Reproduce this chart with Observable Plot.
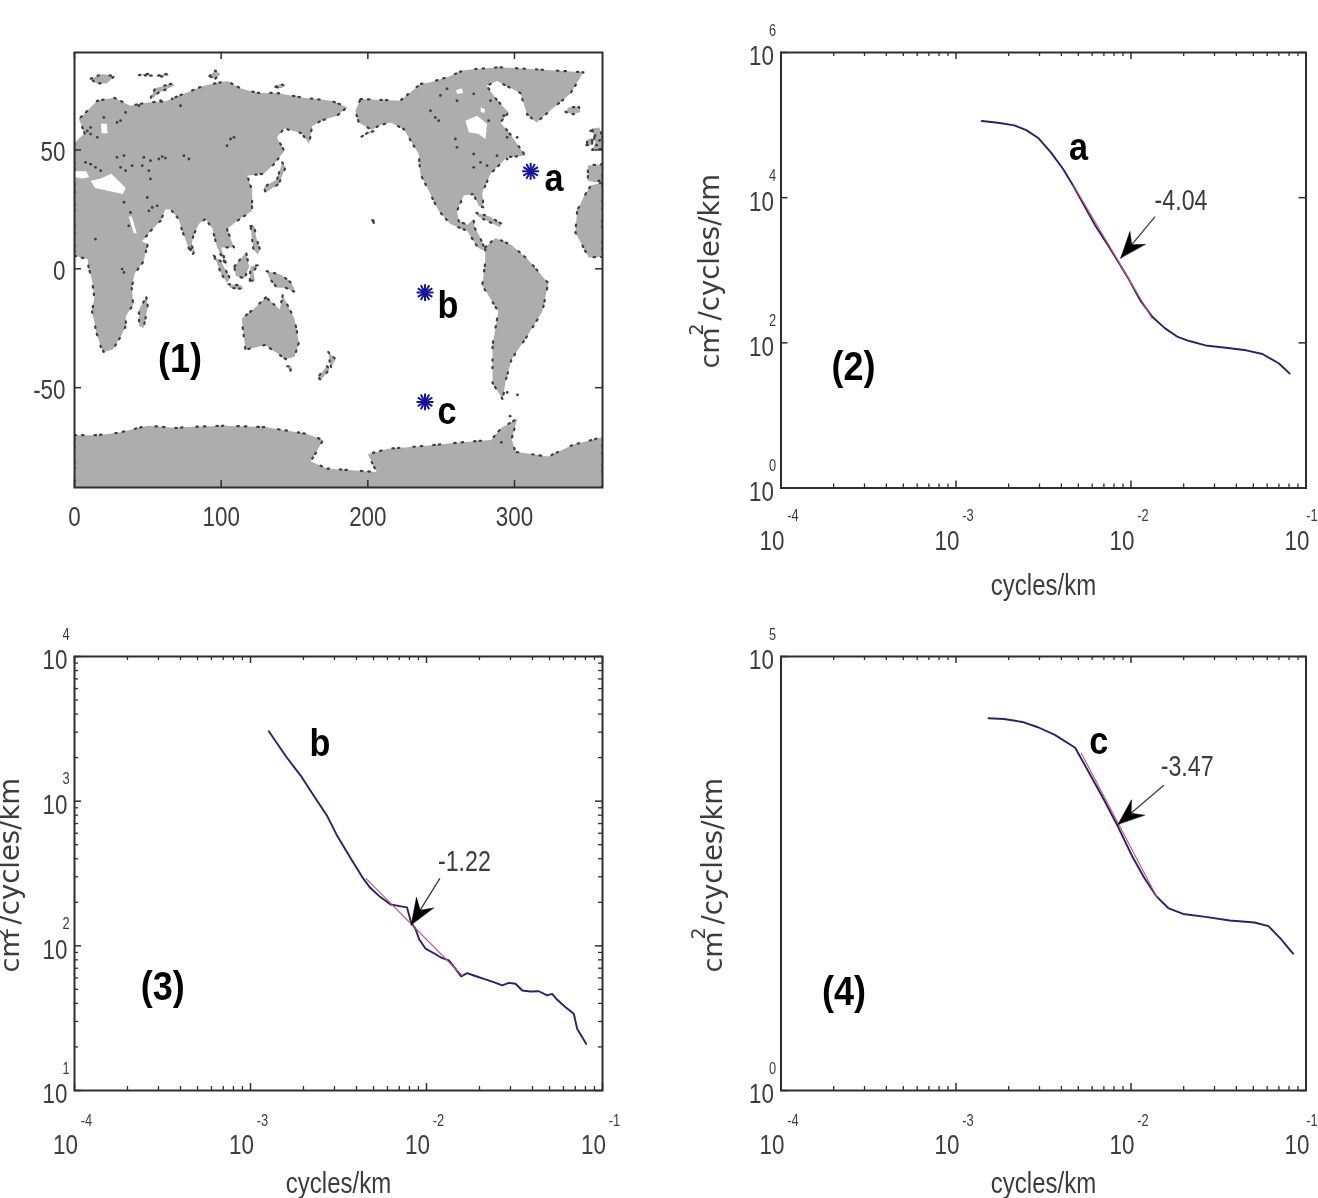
<!DOCTYPE html>
<html><head><meta charset="utf-8">
<script src="https://cdn.jsdelivr.net/npm/d3@7"></script>
<script src="https://cdn.jsdelivr.net/npm/@observablehq/plot@0.6"></script>
<style>
html,body{margin:0;padding:0;background:#fff;}
#page{position:relative;width:1318px;height:1198px;overflow:hidden;background:#fff;}
#page svg{position:absolute;overflow:visible;filter:blur(0.45px);}
</style></head><body><div id="page"></div>
<script>
// ---------- map data (longitude 0-360, latitude) ----------
const eurasiaAfrica=[[0,5.5],[9,4],[9.5,1],[12,-5],[13.5,-12],[12,-18],[15,-27],[18,-33],[20,-35],[26,-34],[32,-28],[35,-24],[35,-20],[40,-15],[39,-8],[41,-2],[47,3],[50,10.5],[46,11.5],[52,16],[58.7,20.2],[62,25],[65.5,25],[71,21],[73.4,16],[79,6.9],[81,14],[84.8,18.8],[89.3,21],[94,17],[97.3,9],[104,0.6],[100,9],[103,9],[108.7,9],[104,16.7],[111,20.2],[121,24.4],[121.2,32.8],[117.8,39.2],[129,40],[136,44],[143,49.6],[138,55.3],[143,59],[155,57],[160,52.5],[162,60],[168,62.3],[179,64.4],[186,68],[175,70.7],[156,72],[138,74],[124.5,74],[113,76],[104,79],[88,77],[72,73],[62,70.5],[50,70],[38,68.6],[27,72],[15.5,70.7],[6.4,65],[3,63],[7,57],[0,53]];
const westAfrica=[[360,5],[350.6,4.8],[341.5,15.3],[342.7,24.4],[347,30],[352,35],[360,36.4]];
const iberia=[[360,44],[350,43.5],[350,37],[355,36.4],[360,37.5]];
const britain=[[353,50],[360,50.5],[360,55],[358,59.5],[353,59],[355,53]];
const ireland=[[349,52],[353,52],[353,55],[350,54.5]];
const iceland=[[334.7,66],[340,65],[345,66],[344,68],[337,68]];
const northAmerica=[[195,71.4],[222,70.7],[236,77.8],[242.7,78.5],[254,80.6],[265,83.4],[272,84],[290,84.8],[347,82.7],[338,73.6],[327,68],[315,61.6],[308.6,65],[304,74],[288,79],[281,77],[288,71],[296,65.8],[290.4,61.6],[297,56.7],[307.4,47.6],[295,47],[283.6,40],[278,32],[279,25.8],[275.6,26.5],[272,31.4],[265.4,30.8],[260.8,24.4],[262,20],[268,18.5],[272,21],[273,17],[276,14],[279,9.5],[279,7.6],[275,9],[267.7,16],[256.3,18.8],[248.3,24.4],[235.8,39.9],[234.7,48.3],[224.5,58.8],[215.4,61.6],[207.4,60.2],[195,55.3],[204,58],[193.8,61.6],[191.5,66.5]];
const southAmerica=[[280,9],[287,13],[298,10],[309,4],[323,-6],[319,-18],[309,-28],[298,-38],[294,-47],[292,-55],[285,-48],[285,-32],[289,-18],[278,-7],[280,2.5]];
const australia=[[130.5,-12],[122,-17],[114,-21],[116.5,-34],[124,-33],[130,-32],[137,-35],[144,-38],[150,-37],[153,-31],[150,-21],[145,-15],[142,-11],[140,-17],[136,-15]];
const tasmania=[[145,-41],[148,-41],[147,-43.5]];
const newZealandN=[[173,-35],[178,-38],[175,-41.5],[174,-39]];
const newZealandS=[[172,-41],[174,-42],[168,-47],[166,-45.5]];
const madagascar=[[49,-12],[50,-16],[47,-25],[44,-24],[44,-17]];
const sumatra=[[95,5.5],[100,3],[106,-4],[104,-6],[100,-2]];
const borneo=[[109,1],[117,7],[119,1],[116,-4],[110,-3]];
const java=[[105,-6.5],[114,-7],[115,-8.5],[106,-8]];
const sulawesi=[[119.5,-5],[120,1],[125,1.5],[122,-1],[123,-5]];
const newGuinea=[[131,-1],[141,-2.5],[148,-6],[151,-10],[144,-8],[138,-8],[133,-4]];
const philippines=[[120,18],[122.5,18],[124,13],[126.5,8],[125,6],[122,8],[121,13]];
const japan=[[141.6,44.8],[143.9,42.7],[139.3,35.7],[130.3,32.1],[129.1,34.3],[138.2,37.8]];
const sriLanka=[[80,9.5],[82,7.5],[80.5,6]];
const cuba=[[274,23.5],[283,22],[291,19],[290,17.5],[282,20],[275,22]];
const svalbard=[[11,80],[19,82],[27,81],[22,78],[15,78]];
const novayaZemlya=[[52,72],[55,76],[67,78],[68,77],[57,74],[54,72]];
const severnaya=[[92,81],[96,83.4],[99.6,82],[96,80]];
const newSiberian=[[137,76.5],[140,77.8],[144,77],[141,76]];
const franzJosef=[[44,81.5],[50,82],[55,81.2]];
const franzJosefE=[[57,81.3],[62,82],[65,81.5],[60,80.8]];
const hawaii=[[203,20.5],[205,20],[204.5,18.8]];
const antarctica=[[0,-70],[15,-70],[30,-69],[50,-66],[70,-67],[75,-66.6],[102,-66],[130,-66.6],[158,-69.4],[169.5,-72],[164,-78],[161,-81],[172,-84],[206,-85.5],[200,-78],[214,-75.7],[242,-74.3],[264,-73],[284,-72],[291,-67],[302,-63],[298,-71.5],[300.6,-77],[323,-79],[340,-74],[359,-71],[360,-70.8],[360,-93],[0,-93]];
const landNames=[eurasiaAfrica,westAfrica,iberia,britain,ireland,iceland,northAmerica,southAmerica,australia,tasmania,newZealandN,newZealandS,madagascar,sumatra,borneo,java,sulawesi,newGuinea,philippines,japan,sriLanka,cuba,svalbard,novayaZemlya,severnaya,newSiberian,franzJosef,franzJosefE,hawaii,antarctica];
// open water cut into the land
const hudsonBay=[[266.5,62.3],[274.5,64.4],[281.3,60.9],[280.2,54.6],[275.6,56.7],[268.8,57.4]];
const arcticGap=[[260,75],[264,76],[265,74],[261,73.5]];
const arcticGap2=[[277,68],[280,67],[279.5,65.5],[277,66]];
const baltic=[[18,61],[22,61],[22.5,57],[18.5,57]];
const medWest=[[0,41],[8,41],[10,38.5],[5,38],[0,38.5]];
const medEast=[[11,37],[18,38],[25,40],[30,37],[35,34],[33,31.5],[25,32.5],[14,34]];
const redSea=[[37,22],[39,22],[42.5,15],[40.5,15]];
const waterNames=[hudsonBay,arcticGap,arcticGap2,baltic,medWest,medEast,redSea];
// scattered coastline pixels inside the land masses
const lakeDots=[[11,59.5],[11,56.7],[8.7,58],[15.5,55.3],[20,63.7],[31.4,62.3],[34.8,65.8],[29,61.6],[11,44],[14.3,42.7],[7.5,44.8],[17.8,41.3],[29,46.9],[33.7,47.6],[31.4,42.7],[39.3,43.4],[34.8,41.3],[47.3,46.9],[46.2,43.4],[51.8,45.5],[50.7,41.3],[51.8,37.8],[59.8,47.2],[57.5,46.2],[62,46.6],[74.6,47.6],[78,46.2],[106.4,54.6],[108.7,55.3],[104,51.8],[33.7,28],[38.2,23.7],[37,18.1],[49.6,30],[53,25.8],[56.4,26.5],[50.7,24.4],[14.3,12.5],[32.5,-0.1],[33.7,-1.5],[43.9,68.6],[58.7,70.7],[66.6,71.5],[72.3,68.6],[246,63.7],[248.3,62.3],[242.7,66.5],[259.7,54.6],[260.8,51.1],[272.2,48.3],[276.8,44.8],[281.3,43.4],[272.2,42.7],[288.1,47.6],[295,46.2],[254,75.7],[260.8,70.7],[249.5,72.9],[272.2,73.6],[283.6,70.7],[282.4,62.3],[292.7,64.4],[295,55.3],[301.8,55.3],[352,58],[355,56],[358,54],[356,52],[353,54],[295,-52],[302,-53],[297,-62],[291,-73]];
const lon360=[0,100,200,300];
const latTicks=[50,0,-50];
// ---------- spectra, stored as log10 values ----------
const logKa=[-2.853,-2.760,-2.667,-2.598,-2.528,-2.458,-2.388,-2.330,-2.272,-2.202,-2.133,-2.074,-2.016,-1.947,-1.877,-1.807,-1.737,-1.667,-1.574,-1.458,-1.342,-1.249,-1.156,-1.093];
const logSa=[5.057,5.032,4.996,4.930,4.818,4.624,4.395,4.165,3.911,3.605,3.350,3.121,2.891,2.585,2.356,2.203,2.086,2.025,1.964,1.933,1.897,1.846,1.719,1.576];
const logKb=[-2.896,-2.796,-2.715,-2.634,-2.564,-2.506,-2.424,-2.366,-2.320,-2.262,-2.204,-2.145,-2.111,-2.087,-2.064,-2.041,-2.006,-1.948,-1.920,-1.873,-1.835,-1.803,-1.769,-1.731,-1.674,-1.618,-1.570,-1.532,-1.494,-1.456,-1.409,-1.362,-1.314,-1.286,-1.257,-1.210,-1.163,-1.144,-1.093];
const logSb=[3.483,3.305,3.177,3.025,2.897,2.757,2.592,2.477,2.401,2.337,2.286,2.273,2.266,2.159,2.121,2.044,1.981,1.942,1.921,1.899,1.841,1.788,1.811,1.795,1.772,1.749,1.726,1.744,1.738,1.691,1.684,1.686,1.657,1.668,1.627,1.576,1.530,1.427,1.323];
const logKc=[-2.814,-2.726,-2.621,-2.528,-2.435,-2.319,-2.249,-2.156,-2.074,-1.993,-1.923,-1.853,-1.784,-1.702,-1.574,-1.435,-1.295,-1.214,-1.144,-1.074];
const logSc=[4.288,4.280,4.246,4.182,4.097,3.949,3.695,3.356,3.038,2.699,2.445,2.233,2.097,2.034,2.000,1.958,1.936,1.894,1.746,1.576];
const fitKa=[-2.33,-1.88], fitSa=[4.175,2.34];
const fitKb=[-2.343,-1.797], fitSb=[2.465,1.795];
const fitKc=[-2.284,-1.853], fitSc=[3.886,2.233];
// ---------- annotations ----------
const stationNames=["a","b","c"], stationLon=[311,239,239], stationLat=[41,-10,-56];
const stationLabelLon=[327,254.6,254], stationLabelLat=[38,-15.6,-60];
const xDecades=[1e-4,1e-3,1e-2,1e-1];
const minorFactors=[2,3,4,5,6,7,8,9];

const INK="#3c3c3c", FRAME="#2e2e2e", LINE="#24246e", FIT="#c8506e", LAND="#adadad";
const SANS="'Liberation Sans',Arial,sans-serif";
const WIDE="'DejaVu Sans',sans-serif";
const page=document.getElementById("page");
function place(svg,left,top){
  svg.style.left=left+"px";svg.style.top=top+"px";page.appendChild(svg);
  // the reference's horizontal text is condensed, its bold labels a little less so
  svg.querySelectorAll("text").forEach(t=>{
    if((t.getAttribute("transform")||"").includes("rotate")) return;
    const n=t.getComputedTextLength();
    const bold=t.closest("[font-weight]");
    if(n>0){t.setAttribute("textLength",n*(bold?0.9:0.8));t.setAttribute("lengthAdjust","spacingAndGlyphs");}
  });
}
const boldText=(rows,size)=>Plot.text(rows,{x:"x",y:"y",text:"t",fontFamily:SANS,fontWeight:"bold",fontSize:size,fill:"#000",lineAnchor:"middle"});

// ---------- panel 1: map ----------
{
  const W=640,H=600,L=74,R=38,T=52,B=113,pw=W-L-R,ph=H-T-B;
  const land=landNames.flatMap((p,id)=>p.concat([p[0]]).map(([x,y])=>({id,x,y})));
  const water=waterNames.flatMap((p,id)=>p.concat([p[0]]).map(([x,y])=>({id,x,y})));
  const stations=stationNames.map((t,i)=>({t,x:stationLon[i],y:stationLat[i]}));
  const labels=stationNames.map((t,i)=>({t,x:stationLabelLon[i],y:stationLabelLat[i]}));
  const svg=Plot.plot({width:W,height:H,marginLeft:L,marginRight:R,marginTop:T,marginBottom:B,
    style:{background:"transparent"},
    x:{domain:[0,360],axis:null},y:{domain:[-92,91],axis:null},
    marks:[
      Plot.line(land,{x:"x",y:"y",z:"id",fill:LAND,stroke:"none",clip:"frame"}),
      Plot.line(water,{x:"x",y:"y",z:"id",fill:"#fff",stroke:"none"}),
      Plot.line(land,{x:"x",y:"y",z:"id",stroke:"#3f3f3f",strokeWidth:2.2,strokeDasharray:"1.5 6 1.5 11 1.5 4 1.5 14",strokeLinecap:"round",clip:"frame"}),
      Plot.dot(lakeDots,{x:d=>d[0],y:d=>d[1],r:1.4,fill:"#3f3f3f"}),
      Plot.ruleX(lon360,{x:d=>d,insetTop:ph-7,stroke:FRAME,strokeWidth:1.5}),
      Plot.ruleX(lon360,{x:d=>d,insetBottom:ph-7,stroke:FRAME,strokeWidth:1.5}),
      Plot.ruleY(latTicks,{y:d=>d,insetRight:pw-7,stroke:FRAME,strokeWidth:1.5}),
      Plot.ruleY(latTicks,{y:d=>d,insetLeft:pw-7,stroke:FRAME,strokeWidth:1.5}),
      Plot.frame({stroke:FRAME,strokeWidth:2}),
      Plot.text(lon360,{x:d=>d,text:d=>String(d),frameAnchor:"bottom",dy:30,fontFamily:SANS,fontSize:28,fill:INK,lineAnchor:"middle"}),
      Plot.text(latTicks,{y:d=>d,text:d=>String(d),frameAnchor:"left",dx:-9,textAnchor:"end",dy:2,fontFamily:SANS,fontSize:28,fill:INK,lineAnchor:"middle"}),
      Plot.dot(stations,{x:"x",y:"y",symbol:"asterisk",r:8,stroke:"#14149a",strokeWidth:2}),
      Plot.dot(stations,{x:"x",y:"y",symbol:"asterisk",r:8,rotate:30,stroke:"#14149a",strokeWidth:2}),
      boldText(labels,38),
      boldText([{t:"(1)",x:72,y:-38}],40)
    ]});
  place(svg,0,0);
}

// ---------- spectral panels ----------
function spectrum(o){
  const W=638,L=o.L,R=W-L-o.pw,T=o.T,B=o.B,H=T+o.ph+B,pw=o.pw,ph=o.ph;
  const curve=o.k.map((v,i)=>({x:10**v,y:10**o.s[i]}));
  const fit=o.fitK.map((v,i)=>({x:10**v,y:10**o.fitS[i]}));
  const lo=10**o.yExp[0], hi=10**o.yExp[1];
  const xMinor=[-4,-3,-2].flatMap(e=>minorFactors.map(f=>f*10**e));
  const yMinor=o.yMinor?d3.range(o.yExp[0],o.yExp[1]).flatMap(e=>minorFactors.map(f=>f*10**e)):[];
  const pos=d=>({x:10**d[0],y:10**d[1]});
  const head={draw(ctx){ctx.moveTo(0,0);ctx.lineTo(-10,-26);ctx.lineTo(0,-17);ctx.lineTo(10,-26);ctx.closePath();}};
  const yLab=(t,dy,dx,fs)=>Plot.text([t],{frameAnchor:"top-left",text:d=>d,dx:o.yLabDx+dx,dy,rotate:-90,textAnchor:"start",lineAnchor:"middle",fontFamily:WIDE,fontSize:fs,fill:INK});
  const expText=d=>String(Math.round(Math.log10(d)));
  const svg=Plot.plot({width:W,height:H,marginLeft:L,marginRight:R,marginTop:T,marginBottom:B,
    style:{background:"transparent"},
    x:{type:"log",domain:[1e-4,1e-1],axis:null},y:{type:"log",domain:[lo,hi],axis:null},
    marks:[
      Plot.ruleX(xMinor,{x:d=>d,insetTop:ph-4,stroke:FRAME,strokeWidth:1.3}),
      Plot.ruleX(xMinor,{x:d=>d,insetBottom:ph-4,stroke:FRAME,strokeWidth:1.3}),
      Plot.ruleX(xDecades,{x:d=>d,insetTop:ph-7,stroke:FRAME,strokeWidth:1.5}),
      Plot.ruleX(xDecades,{x:d=>d,insetBottom:ph-7,stroke:FRAME,strokeWidth:1.5}),
      Plot.ruleY(yMinor,{y:d=>d,insetRight:pw-4,stroke:FRAME,strokeWidth:1.3}),
      Plot.ruleY(yMinor,{y:d=>d,insetLeft:pw-4,stroke:FRAME,strokeWidth:1.3}),
      Plot.ruleY(o.yTicks,{y:d=>d,insetRight:pw-7,stroke:FRAME,strokeWidth:1.5}),
      Plot.ruleY(o.yTicks,{y:d=>d,insetLeft:pw-7,stroke:FRAME,strokeWidth:1.5}),
      Plot.frame({stroke:FRAME,strokeWidth:2}),
      Plot.line(curve,{x:"x",y:"y",stroke:LINE,strokeWidth:1.9}),
      Plot.line(fit,{x:"x",y:"y",stroke:FIT,strokeWidth:1.1}),
      Plot.text(xDecades,{x:d=>d,text:()=>"10",frameAnchor:"bottom",dx:-9,dy:o.xDy,fontFamily:SANS,fontSize:28,fill:INK,lineAnchor:"middle"}),
      Plot.text(xDecades.slice(0,3),{x:d=>d,text:expText,frameAnchor:"bottom",dx:12,dy:o.xDy-25,fontFamily:SANS,fontSize:16,fill:INK,lineAnchor:"middle"}),
      Plot.text(xDecades.slice(3),{x:d=>d,text:expText,frameAnchor:"bottom",dx:o.lastExpDx,dy:o.xDy-25,fontFamily:SANS,fontSize:16,fill:INK,lineAnchor:"middle"}),
      Plot.text(o.yTicks,{y:d=>d,text:()=>"10",frameAnchor:"left",dx:-32,dy:4,fontFamily:SANS,fontSize:28,fill:INK,lineAnchor:"middle"}),
      Plot.text(o.yTicks,{y:d=>d,text:expText,frameAnchor:"left",dx:-12,dy:-22,fontFamily:SANS,fontSize:16,fill:INK,lineAnchor:"middle"}),
      Plot.text(["cycles/km"],{frameAnchor:"bottom",text:d=>d,dy:o.xLabDy,fontFamily:SANS,fontSize:30,fill:INK,lineAnchor:"middle"}),
      yLab("cm",316,0,27),yLab("2",283,o.supDx,19),yLab("/cycles/km",268,0,27.5),
      Plot.arrow([o.arrow],{x1:d=>10**d[0],y1:d=>10**d[1],x2:d=>10**d[2],y2:d=>10**d[3],stroke:INK,strokeWidth:1.3,headLength:0}),
      Plot.vector([o.arrow],{x:d=>10**d[2],y:d=>10**d[3],rotate:o.arrowRot,length:26,anchor:"start",shape:head,fill:"#000",stroke:"#000",strokeWidth:0.5}),
      Plot.text([{...pos(o.slopeAt),t:o.slope}],{x:"x",y:"y",text:"t",fontFamily:SANS,fontSize:29,fill:INK,lineAnchor:"middle"}),
      boldText([{...pos(o.nameAt),t:o.name}],38),
      boldText([{...pos(o.panelAt),t:o.panel}],40)
    ]});
  place(svg,o.left,o.top);
}
spectrum({left:680,top:0,L:100.5,pw:525,T:52,ph:435.5,B:112.5,xDy:53,xLabDy:97,yLabDx:-70.5,supDx:-14,lastExpDx:6,
  k:logKa,s:logSa,fitK:fitKa,fitS:fitSa,yExp:[0,6],yTicks:[1e0,1e2,1e4,1e6],yMinor:false,
  arrow:[-1.865,3.732,-2.058,3.171],arrowRot:40,slope:"-4.04",slopeAt:[-1.714,3.96],name:"a",nameAt:[-2.30,4.685],panel:"(2)",panelAt:[-3.586,1.668]});
spectrum({left:0,top:600,L:74,pw:528,T:56,ph:434,B:108,xDy:55,xLabDy:93,yLabDx:-64,supDx:-9,lastExpDx:12,
  k:logKb,s:logSb,fitK:fitKb,fitS:fitSb,yExp:[1,4],yTicks:[1e1,1e2,1e3,1e4],yMinor:true,
  arrow:[-1.925,2.464,-2.087,2.146],arrowRot:32,slope:"-1.22",slopeAt:[-1.785,2.579],name:"b",nameAt:[-2.606,3.394],panel:"(3)",panelAt:[-3.498,1.713]});
spectrum({left:680,top:600,L:100.5,pw:525,T:56,ph:434,B:108,xDy:55,xLabDy:93,yLabDx:-68,supDx:-14,lastExpDx:6,
  k:logKc,s:logSc,fitK:fitKc,fitS:fitSc,yExp:[0,5],yTicks:[1e0,1e5],yMinor:false,
  arrow:[-1.814,3.513,-2.074,3.068],arrowRot:50,slope:"-3.47",slopeAt:[-1.679,3.725],name:"c",nameAt:[-2.184,4.021],panel:"(4)",panelAt:[-3.64,1.131]});
</script></body></html>
